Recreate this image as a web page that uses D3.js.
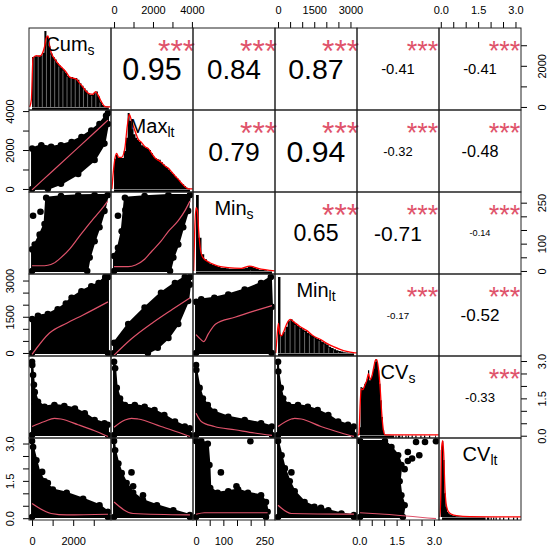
<!DOCTYPE html>
<html>
<head>
<meta charset="utf-8">
<script src="https://cdn.jsdelivr.net/npm/d3@7"></script>
<style>
  body { margin: 0; background: #fff; }
  text { font-family: "Liberation Sans", Arial, sans-serif; }
</style>
</head>
<body>
<div id="main"></div>
<script>
// variables
const varNames = ["Cum", "Max", "Min", "Min", "CV", "CV"];
const varSubs = ["s", "lt", "s", "lt", "s", "lt"];
const varMin = [0, 0, 0, 0, 0.03, 0.05];
const varMax = [3690, 3900, 278, 3145, 3.08, 3.1];

// axis ticks / labels
const axisTicks = [
  [0, 1000, 2000, 3000],
  [0, 1000, 2000, 3000, 4000],
  [0, 50, 100, 150, 200, 250],
  [0, 500, 1000, 1500, 2000, 2500, 3000],
  [0, 0.5, 1, 1.5, 2, 2.5, 3],
  [0, 0.5, 1, 1.5, 2, 2.5, 3]
];
const axisLabelVals = [[0, 2000], [0, 2000, 4000], [0, 100, 250], [0, 1500, 3000], [0, 1.5, 3], [0, 1.5, 3]];

// correlations (upper panels)
const corPairs = [[0,1],[0,2],[0,3],[0,4],[0,5],[1,2],[1,3],[1,4],[1,5],[2,3],[2,4],[2,5],[3,4],[3,5],[4,5]];
const corValues = [0.95, 0.84, 0.87, -0.41, -0.41, 0.79, 0.94, -0.32, -0.48, 0.65, -0.71, -0.14, -0.17, -0.52, -0.33];
const corStars = ["***","***","***","***","***","***","***","***","***","***","***","***","***","***","***"];

// histograms (diagonal)
const histStart = [0, 0, 0, 0, 0, 0];
const histWidth = [100, 100, 10, 100, 0.05, 0.05];
const histCum = [653,662,662,672,676,706,991,917,794,698,653,619,575,540,509,487,451,408,390,390,377,377,355,311,276,245,215,179,158,158,188,202,136,70,26,10,5,2];
const histMax = [399,452,412,408,408,500,676,1000,900,785,720,676,645,619,575,561,544,531,513,469,425,403,390,386,355,324,302,280,250,223,197,171,144,118,83,61,39,17,5];
const histMinS = [1000,439,219,153,122,96,79,65,52,43,39,35,30,30,30,30,30,35,43,61,65,43,30,17,13,8,4,2];
const histMinLt = [1000,237,280,346,425,443,412,381,355,333,311,289,267,245,223,206,188,171,149,127,110,83,66,48,35,26,18,9,5,3,2,1];
const histCVs = [100,632,623,623,676,698,741,851,719,755,785,873,961,1000,961,851,676,456,237,61,8,4,
  3,2,2,1,1,1,0,1,0,1,1,0,1,0,0,1,0,1,0,0,1,0,0,1,0,0,0,1,0,0,1,0,0,0,1,0,0,0,0,1];
const histCVlt = [882,1000,750,311,136,70,48,35,26,21,17,13,11,9,8,7,6,5,5,4,4,3,3,3,2,2,2,2,
  1,1,1,1,1,1,1,1,0,1,1,0,1,0,1,0,1,0,0,1,0,0,1,0,0,0,1,0,0,0,1,0,0,1];

// density curves
const densCum = [[-114,0],[-33,92],[48,640],[210,671],[372,662],[501,698],[614,794],[695,904],[776,926],[857,794],[938,706],[1100,627],[1262,566],[1504,500],[1666,452],[1828,390],[1990,377],[2152,364],[2313,311],[2475,259],[2637,201],[2799,171],[2961,166],[3090,201],[3203,158],[3365,70],[3527,8],[3689,0],[3818,0]];
const densMax = [[-109,0],[-40,215],[46,399],[132,469],[234,417],[389,417],[560,544],[680,829],[783,983],[903,895],[1075,763],[1246,654],[1418,610],[1589,557],[1761,531],[1932,469],[2104,408],[2275,377],[2447,346],[2618,302],[2790,272],[2961,223],[3133,171],[3304,127],[3476,74],[3647,30],[3819,0],[4042,0]];
const densMinS = [[-8.6,0],[-4.9,526],[0,834],[4.9,790],[9.7,526],[17,263],[25.6,175],[43.9,122],[68.3,79],[117,43],[166,35],[196,65],[227,35],[288,0]];
const densMinLt = [[-96,0],[-41,215],[14,390],[69,259],[137,224],[234,280],[371,390],[508,443],[646,412],[920,346],[1195,294],[1470,223],[1745,180],[2020,127],[2295,83],[2569,48],[2844,21],[3119,4],[3270,0]];
const densCVs = [[-0.072,0],[-0.018,0],[0.035,412],[0.075,610],[0.142,597],[0.222,654],[0.302,719],[0.369,807],[0.436,728],[0.516,785],[0.583,895],[0.649,983],[0.703,992],[0.770,873],[0.836,632],[0.903,280],[0.970,61],[1.037,0],[1.237,0],[3.2,0]];
const densCVlt = [[-0.043,0],[-0.003,223],[0.037,926],[0.077,1005],[0.117,838],[0.157,443],[0.211,180],[0.304,70],[0.438,35],[0.639,17],[1.174,4],[2.511,0],[3.22,0]];

// scatter clouds (outline of the point mass), outliers and smoothers; name = row, col
const cloud10 = [[0,0],[0,2076],[450,2245],[928,2161],[1406,2245],[1924,2413],[2402,2666],[2881,3003],[3279,3340],[3598,3761],[3690,3900],[3690,3340],[3518,2329],[3040,1487],[2243,771],[1406,265],[769,12]];
const smooth10 = [[0,-45],[1000,925],[2000,1895],[3000,2865],[3690,3534]];
const cloud20 = [[0,0],[0,79],[131,97],[370,133],[609,172],[689,268],[1406,274],[2243,277],[3040,278],[3678,278],[3518,220],[3279,160],[3040,109],[2801,49],[2681,0]];
const extra20 = [[51,202],[410,217]];
const smooth20 = [[0,19],[450,19],[769,21],[1048,28],[1406,49],[1845,82],[2243,121],[2642,160],[3040,196],[3439,232],[3678,256]];
const cloud21 = [[0,0],[0,55],[202,85],[392,145],[560,268],[1571,274],[2792,278],[3900,278],[3803,220],[3551,160],[3298,97],[3045,49],[2877,0]];
const extra21 = [[202,202],[581,223]];
const smooth21 = [[0,16],[729,16],[1108,22],[1571,43],[1950,73],[2413,109],[2792,145],[3298,184],[3635,220],[3900,256]];
const cloud30 = [[0,0],[0,1403],[290,1539],[769,1607],[1247,1810],[1645,2048],[1924,2286],[2402,2558],[2881,2761],[3239,2897],[3558,3145],[3690,3145],[3690,0]];
const smooth30 = [[0,-60],[848,825],[1685,1233],[2482,1573],[3690,2116]];
const cloud31 = [[0,0],[0,418],[729,1199],[1571,1878],[2413,2490],[3129,2897],[3635,3145],[3900,3145],[3900,2829],[3803,2150],[3298,1199],[2792,621],[2245,214],[1739,0]];
const smooth31 = [[0,-92],[897,587],[1950,1233],[3003,1810],[3900,2286]];
const cloud32 = [[0,0],[0,2116],[19,2218],[67,2286],[118,2422],[178,2626],[238,2897],[274,3145],[278,1912],[277,0]];
const smooth32 = [[0,760],[18,553],[28,470],[45,790],[72,1200],[142,1480],[214,1742],[278,1960]];
const cloud40 = [[0,0.03],[0,2.97],[11,2.84],[51,2.44],[91,2.05],[131,1.75],[290,1.36],[609,1.16],[1087,1.23],[1566,1.19],[2084,1.09],[2562,0.9],[3040,0.63],[3518,0.5],[3690,0.44],[3690,0.03]];
const smooth40 = [[0,0.37],[609,0.57],[1087,0.7],[1406,0.67],[2243,0.44],[3040,0.2],[3690,-0.03]];
const cloud41 = [[0,0.03],[0,2.97],[55,2.71],[139,1.92],[307,1.49],[560,1.23],[1065,1.23],[1571,1.16],[2076,1.03],[2582,0.83],[3129,0.57],[3635,0.37],[3900,0.3],[3900,0.03]];
const smooth41 = [[0,0.34],[560,0.63],[897,0.7],[1234,0.67],[2413,0.37],[3298,0.14],[3900,-0.03]];
const cloud42 = [[0,0.03],[0,2.84],[1,2.64],[13,1.92],[25,1.49],[43,1.23],[67,0.96],[118,0.76],[178,0.63],[238,0.5],[278,0.37],[278,0.03]];
const smooth42 = [[0,0.9],[19,0.57],[67,0.37],[142,0.24],[214,0.11],[278,0.01]];
const cloud43 = [[0,0.03],[0,2.97],[10,2.58],[112,1.92],[214,1.49],[418,1.23],[825,1.23],[1233,1.16],[1640,1.03],[2082,0.83],[2490,0.57],[2897,0.44],[3145,0.37],[3145,0.03]];
const smooth43 = [[0,0.37],[553,0.67],[689,0.7],[961,0.67],[1776,0.37],[2626,0.11],[3145,-0.03]];
const cloud50 = [[0,0.05],[0,3.1],[51,2.86],[211,2.33],[370,1.81],[609,1.48],[1008,1.15],[1685,1.02],[2482,0.78],[3279,0.52],[3690,0.26],[3690,0.05]];
const extra50 = [[490,1.86],[769,1.41]];
const smooth50 = [[0,0.59],[928,0.19],[1685,0.13],[3690,0.16]];
const cloud51 = [[0,0.05],[0,3.1],[55,2.73],[223,2.2],[392,1.81],[644,1.41],[981,1.02],[1487,0.72],[2203,0.52],[3045,0.32],[3900,0.13],[3900,0.05]];
const extra51 = [[897,1.84],[981,1.28],[1487,0.92]];
const smooth51 = [[0,0.65],[981,0.19],[3900,0.13]];
const cloud52 = [[0,0.05],[0,3.1],[19,3.1],[43,2.99],[49,2.14],[52,1.21],[79,1.02],[118,1.08],[154,1.15],[190,1.02],[238,0.92],[256,0.65],[262,0.26],[256,0.05]];
const extra52 = [[199,3.09],[91,1.84],[148,1.28]];
const smooth52 = [[0,0.16],[31,0.22],[262,0.22]];
const cloud53 = [[0,0.05],[0,3.1],[146,2.53],[282,2.0],[485,1.48],[689,1.08],[1097,0.65],[1505,0.46],[2082,0.32],[2626,0.19],[3145,0.13],[3145,0.05]];
const extra53 = [[553,1.84],[1776,0.42]];
const smooth53 = [[0,0.52],[553,0.19],[3145,0.16]];
const cloud54 = [[0.03,0.05],[0.03,3.1],[1.03,3.1],[1.29,2.86],[1.56,2.53],[1.69,2.14],[1.62,1.48],[1.69,0.92],[1.82,0.52],[1.75,0.05]];
const extra54 = [[2.28,3.06],[2.64,3.06],[3.08,3.09],[1.95,2.66],[2.41,2.53],[2.12,2.4],[1.95,2.3],[1.82,1.97]];
const smooth54 = [[0.03,0.22],[1.03,0.16],[3.08,-0.02]];

class PairsChart {
  constructor(config) {
    this.config = config;
    this.svg = null;
    this.xScales = [];
    this.yScales = [];
    this.createSvg();
    this.createScales();
  }

  createSvg() {
    this.svg = d3.select(this.config.div)
      .append("svg")
      .attr("width", this.config.width)
      .attr("height", this.config.height);
    this.svg.append("rect")
      .attr("width", this.config.width)
      .attr("height", this.config.height)
      .attr("fill", "white");
    this.defs = this.svg.append("defs");
  }

  domainOf(i) {
    const r = varMax[i] - varMin[i];
    return [varMin[i] - 0.04 * r, varMax[i] + 0.04 * r];
  }

  cellX(i) { return this.config.left + i * this.config.cell; }
  cellY(j) { return this.config.top + j * this.config.cell; }

  createScales() {
    const c = this.config.cell;
    for (let i = 0; i < varNames.length; i++) {
      this.xScales.push(d3.scaleLinear().domain(this.domainOf(i)).range([this.cellX(i), this.cellX(i) + c]));
      this.yScales.push(d3.scaleLinear().domain(this.domainOf(i)).range([this.cellY(i) + c, this.cellY(i)]));
    }
  }

  panel(row, col) {
    const id = `clip-${row}-${col}`;
    const c = this.config.cell;
    this.defs.append("clipPath").attr("id", id)
      .append("rect")
      .attr("x", this.cellX(col)).attr("y", this.cellY(row))
      .attr("width", c).attr("height", c);
    return this.svg.append("g").attr("clip-path", `url(#${id})`);
  }

  drawDiagonal(hists, dens, edged) {
    const c = this.config.cell;
    hists.forEach((counts, i) => {
      const g = this.panel(i, i);
      const x = this.xScales[i];
      const m = d3.max(counts);
      const y = d3.scaleLinear().domain([-0.04 * m, 1.04 * m]).range([this.cellY(i) + c, this.cellY(i)]);
      const bins = counts.map((v, k) => ({
        x0: histStart[i] + k * histWidth[i],
        x1: histStart[i] + (k + 1) * histWidth[i],
        v: v
      })).filter(d => d.v > 0);

      // all bars in one path, so touching bars leave no seams
      const bars = d3.path();
      bins.forEach(d => bars.rect(x(d.x0), y(d.v), x(d.x1) - x(d.x0), y(0) - y(d.v)));
      g.append("path").attr("d", bars.toString()).attr("fill", "black");

      if (edged[i]) {
        g.selectAll("line.edge")
          .data(bins.filter((d, k) => k % 2 === 1))
          .join("line")
          .attr("class", "edge")
          .attr("x1", d => x(d.x0)).attr("x2", d => x(d.x0))
          .attr("y1", d => y(d.v) + 1).attr("y2", y(0))
          .attr("stroke", "#b0b0b0")
          .attr("stroke-width", 0.6);
      }

      // rug
      const rug = d3.path();
      bins.forEach(d => {
        const a = x(Math.max(d.x0, varMin[i]));
        const b = x(Math.min(d.x1, varMax[i]));
        rug.rect(a, this.cellY(i) + c - 2.6, Math.max(0.8, b - a), 2.6);
      });
      g.append("path").attr("d", rug.toString()).attr("fill", "black");

      g.append("path")
        .attr("d", d3.line().x(d => x(d[0])).y(d => y(d[1])).curve(d3.curveMonotoneX)(dens[i]))
        .attr("fill", "none")
        .attr("stroke", "#ff0000")
        .attr("stroke-width", 1.3);

      const lab = this.svg.append("text")
        .attr("x", this.cellX(i) + c / 2)
        .attr("y", this.cellY(i) + 23)
        .attr("text-anchor", "middle")
        .attr("font-size", 20)
        .attr("fill", "black");
      lab.append("tspan").text(varNames[i]);
      lab.append("tspan").attr("font-size", 14).attr("dy", 4).text(varSubs[i]);
    });
  }

  drawLower(panels) {
    panels.forEach(p => {
      const g = this.panel(p.row, p.col);
      const x = this.xScales[p.col];
      const y = this.yScales[p.row];
      const line = d3.line().x(d => x(d[0])).y(d => y(d[1]));

      g.append("path")
        .attr("d", line(p.cloud) + "Z")
        .attr("fill", "black")
        .attr("stroke", "black")
        .attr("stroke-width", 2)
        .attr("stroke-linejoin", "round");

      g.selectAll("circle")
        .data(p.cloud.concat(p.extra))
        .join("circle")
        .attr("cx", d => x(d[0]))
        .attr("cy", d => y(d[1]))
        .attr("r", 3.3)
        .attr("fill", "black");

      g.append("path")
        .attr("d", line.curve(d3.curveMonotoneX)(p.smooth))
        .attr("fill", "none")
        .attr("stroke", "#df536b")
        .attr("stroke-width", 1.2);
    });
  }

  textWidth(str, size) {
    const t = this.svg.append("text").attr("font-size", size).text(str);
    const w = t.node().getComputedTextLength();
    t.remove();
    return w;
  }

  drawUpper() {
    const c = this.config.cell;
    corPairs.forEach((pr, k) => {
      const row = pr[0], col = pr[1];
      const r = corValues[k];
      const txt = d3.format(".2f")(r).replace("−", "-");
      const base = 0.8 * c * 0.94 / (this.textWidth(txt, 100) / 100);
      const fs = base * (Math.abs(r) + 0.3) / 1.3;
      const cx = this.cellX(col) + c / 2;
      const cy = this.cellY(row) + c / 2;

      this.svg.append("text")
        .attr("x", cx)
        .attr("y", cy + 0.358 * fs)
        .attr("text-anchor", "middle")
        .attr("font-size", fs)
        .attr("fill", "black")
        .text(txt);

      this.svg.append("text")
        .attr("x", this.cellX(col) + 0.8 * c)
        .attr("y", this.cellY(row) + 0.2 * c + 0.57 * base)
        .attr("text-anchor", "middle")
        .attr("font-size", base)
        .attr("fill", "#df536b")
        .text(corStars[k]);
    });
  }

  drawAxes() {
    const n = varNames.length;
    const fmt = i => (i >= 4 ? d3.format(".1f") : d3.format("d"));
    const labelOf = i => v => (axisLabelVals[i].includes(v) ? fmt(i)(v) : "");

    for (let i = 0; i < n; i++) {
      let g;
      if (i % 2 === 1) {
        g = this.svg.append("g")
          .attr("transform", `translate(0,${this.cellY(0)})`)
          .call(d3.axisTop(this.xScales[i]).tickValues(axisTicks[i]).tickSize(6).tickFormat(labelOf(i)));
        g.selectAll("text").attr("y", -14).attr("dy", null);
      } else {
        g = this.svg.append("g")
          .attr("transform", `translate(0,${this.cellY(n)})`)
          .call(d3.axisBottom(this.xScales[i]).tickValues(axisTicks[i]).tickSize(6).tickFormat(labelOf(i)));
        g.selectAll("text").attr("y", 24.6).attr("dy", null);
      }
      this.styleAxis(g);

      let h;
      if (i % 2 === 1) {
        h = this.svg.append("g")
          .attr("transform", `translate(${this.cellX(0)},0)`)
          .call(d3.axisLeft(this.yScales[i]).tickValues(axisTicks[i]).tickSize(6).tickFormat(labelOf(i)));
        h.selectAll("text").attr("transform", "rotate(-90)").attr("x", 0).attr("y", -15)
          .attr("dy", null).attr("text-anchor", "middle");
      } else {
        h = this.svg.append("g")
          .attr("transform", `translate(${this.cellX(n)},0)`)
          .call(d3.axisRight(this.yScales[i]).tickValues(axisTicks[i]).tickSize(6).tickFormat(labelOf(i)));
        h.selectAll("text").attr("transform", "rotate(-90)").attr("x", 0).attr("y", 24.6)
          .attr("dy", null).attr("text-anchor", "middle");
      }
      this.styleAxis(h);
    }
  }

  styleAxis(g) {
    g.select(".domain").remove();
    g.attr("font-family", null).attr("font-size", null);
    g.selectAll("line").attr("stroke", "black").attr("stroke-width", 1);
    g.selectAll("text").attr("font-size", 11).attr("fill", "black");
  }

  drawFrames() {
    const n = varNames.length;
    const c = this.config.cell;
    for (let j = 0; j < n; j++) {
      for (let i = 0; i < n; i++) {
        this.svg.append("rect")
          .attr("x", this.cellX(i)).attr("y", this.cellY(j))
          .attr("width", c).attr("height", c)
          .attr("fill", "none")
          .attr("stroke", "#222")
          .attr("stroke-width", 1);
      }
    }
  }
}

function main() {
  const c = { div: "#main", width: 550, height: 551, top: 28, left: 29, cell: 82 };
  const chart = new PairsChart(c);

  const lower = [
    { row: 1, col: 0, cloud: cloud10, extra: [], smooth: smooth10 },
    { row: 2, col: 0, cloud: cloud20, extra: extra20, smooth: smooth20 },
    { row: 2, col: 1, cloud: cloud21, extra: extra21, smooth: smooth21 },
    { row: 3, col: 0, cloud: cloud30, extra: [], smooth: smooth30 },
    { row: 3, col: 1, cloud: cloud31, extra: [], smooth: smooth31 },
    { row: 3, col: 2, cloud: cloud32, extra: [], smooth: smooth32 },
    { row: 4, col: 0, cloud: cloud40, extra: [], smooth: smooth40 },
    { row: 4, col: 1, cloud: cloud41, extra: [], smooth: smooth41 },
    { row: 4, col: 2, cloud: cloud42, extra: [], smooth: smooth42 },
    { row: 4, col: 3, cloud: cloud43, extra: [], smooth: smooth43 },
    { row: 5, col: 0, cloud: cloud50, extra: extra50, smooth: smooth50 },
    { row: 5, col: 1, cloud: cloud51, extra: extra51, smooth: smooth51 },
    { row: 5, col: 2, cloud: cloud52, extra: extra52, smooth: smooth52 },
    { row: 5, col: 3, cloud: cloud53, extra: extra53, smooth: smooth53 },
    { row: 5, col: 4, cloud: cloud54, extra: extra54, smooth: smooth54 }
  ];

  chart.drawLower(lower);
  chart.drawDiagonal(
    [histCum, histMax, histMinS, histMinLt, histCVs, histCVlt],
    [densCum, densMax, densMinS, densMinLt, densCVs, densCVlt],
    [true, false, false, true, false, false]
  );
  chart.drawUpper();
  chart.drawAxes();
  chart.drawFrames();
}

main();
</script>
</body>
</html>
